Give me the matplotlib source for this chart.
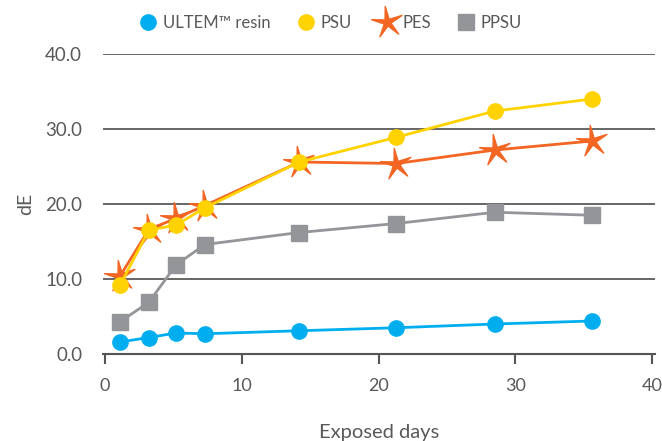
import numpy as np
import matplotlib
matplotlib.use("Agg")
import matplotlib.pyplot as plt
from matplotlib.path import Path

# exposure data
days = [1.1, 3.2, 5.2, 7.3, 14.2, 21.3, 28.5, 35.6]
ultem = [1.6, 2.2, 2.8, 2.7, 3.1, 3.5, 4.0, 4.4]
psu = [9.2, 16.5, 17.2, 19.5, 25.6, 28.9, 32.4, 34.0]
pes = [10.4, 16.6, 18.1, 19.8, 25.6, 25.4, 27.2, 28.4]
ppsu = [4.3, 6.9, 11.9, 14.6, 16.2, 17.4, 18.9, 18.5]

yticks = [0, 10, 20, 30, 40]
xticks = [0, 10, 20, 30, 40]

c_ultem = "#00AEEF"
c_psu = "#FFD200"
c_pes = "#F26522"
c_ppsu = "#939598"
txt = "#58595B"

plt.rcParams['font.family'] = ['Lato', 'DejaVu Sans']


def star_marker(n=5, inner=0.22, rot=8):
    ang = np.deg2rad(rot) + np.pi / 2
    verts = []
    for i in range(2 * n):
        r = 1.0 if i % 2 == 0 else inner
        a = ang + i * np.pi / n
        verts.append((r * np.cos(a), r * np.sin(a)))
    verts.append(verts[0])
    codes = [Path.MOVETO] + [Path.LINETO] * (2 * n - 1) + [Path.CLOSEPOLY]
    return Path(verts, codes)


star = star_marker()

fig = plt.figure(figsize=(6.62, 4.41), dpi=100)
ax = fig.add_axes([103 / 662, (441 - 354) / 441, (655 - 103) / 662, 300 / 441])

ax.plot(days, ppsu, color=c_ppsu, lw=2, marker="s", ms=12, label="PPSU", zorder=3)
ax.plot(days, pes, color=c_pes, lw=2, marker=star, ms=23, label="PES", zorder=4)
ax.plot(days, psu, color=c_psu, lw=2, marker="o", ms=11, label="PSU", zorder=5)
ax.plot(days, ultem, color=c_ultem, lw=2, marker="o", ms=11, label="ULTEM™ resin", zorder=6)

ax.set_xlim(-0.15, 40.2)
ax.set_ylim(0, 40)
ax.set_yticks(yticks)
ax.set_yticklabels([f"{v:.1f}" for v in yticks])
ax.set_xticks(xticks)

for v in yticks[1:]:
    ax.axhline(v, color="#4D4D4D", lw=1.2, zorder=1)

for s in ["top", "right", "left"]:
    ax.spines[s].set_visible(False)
ax.spines["bottom"].set_color("#555555")
ax.spines["bottom"].set_linewidth(1.5)
ax.tick_params(axis="x", direction="out", length=7, width=1.5, color="#555555",
               labelsize=13, labelcolor=txt, pad=10)
ax.tick_params(axis="y", length=0, labelsize=13.5, labelcolor=txt, pad=15)

ax.set_ylabel("dE", fontsize=14, color=txt, labelpad=8)
ax.set_xlabel("Exposed days", fontsize=14.5, color=txt, labelpad=22)

handles, labels = ax.get_legend_handles_labels()
order = [3, 2, 1, 0]
leg = fig.legend([handles[i] for i in order], [labels[i] for i in order],
                 loc="upper center", bbox_to_anchor=(0.5, 1.0), ncol=4, frameon=False,
                 fontsize=12, handlelength=1.0, handletextpad=0.4, columnspacing=1.6)
for t in leg.get_texts():
    t.set_color(txt)
for h in leg.legend_handles:
    h.set_linestyle("none")

fig.savefig("out.png", dpi=100)
